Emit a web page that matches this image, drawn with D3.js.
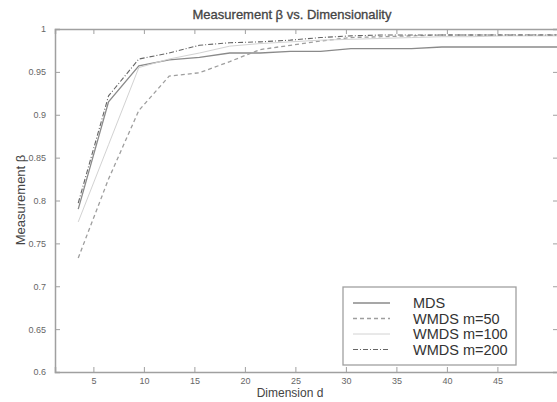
<!DOCTYPE html>
<html>
<head>
<meta charset="utf-8">
<script src="https://cdn.jsdelivr.net/npm/d3@7"></script>
<style>
body { margin: 0; background: #fff; }
text { font-family: Arial, "Liberation Sans", sans-serif; }
</style>
</head>
<body>
<div id="chart"></div>
<script>
// values
var dims = [3.5, 6.5, 9.5, 12.5, 15.5, 18.5, 21.5, 24.5, 27.5, 30.5, 33.5, 36.5, 39.5, 42.5, 45.5, 48.5, 51];
var mds     = [0.790, 0.915, 0.957, 0.964, 0.967, 0.972, 0.972, 0.974, 0.974, 0.977, 0.977, 0.977, 0.979, 0.979, 0.979, 0.979, 0.979];
var wmds50  = [0.733, 0.825, 0.905, 0.945, 0.949, 0.962, 0.976, 0.981, 0.986, 0.990, 0.991, 0.992, 0.993, 0.993, 0.993, 0.993, 0.993];
var wmds100 = [0.775, 0.865, 0.955, 0.965, 0.972, 0.980, 0.983, 0.985, 0.987, 0.988, 0.989, 0.990, 0.991, 0.991, 0.992, 0.992, 0.992];
var wmds200 = [0.797, 0.922, 0.965, 0.972, 0.981, 0.984, 0.985, 0.987, 0.990, 0.992, 0.993, 0.993, 0.993, 0.993, 0.993, 0.993, 0.993];
var seriesNames = ["MDS", "WMDS m=50", "WMDS m=100", "WMDS m=200"];
var xTicks = [5, 10, 15, 20, 25, 30, 35, 40, 45];
var yTicks = [0.6, 0.65, 0.7, 0.75, 0.8, 0.85, 0.9, 0.95, 1];

var width = 557,
    height = 402;

var svg = d3.select("#chart")
    .append("svg")
    .attr("width", width)
    .attr("height", height);

var xScale = d3.scaleLinear()
    .domain([1.2, 51])
    .range([55, 558]);

var yScale = d3.scaleLinear()
    .domain([0.6, 1])
    .range([372, 29]);

var styles = [
    {color: "#8a8a8a", width: 1.3, dash: null},
    {color: "#9e9e9e", width: 1.3, dash: "4,3"},
    {color: "#d2d2d2", width: 1, dash: null},
    {color: "#666666", width: 1.1, dash: "5,2,1,2"}
];
var allSeries = [mds, wmds50, wmds100, wmds200];

// axes box
var axisColor = "#a0a0a0";
var xAxis = d3.axisBottom(xScale).tickValues(xTicks).tickSize(-5).tickPadding(6);
var yAxis = d3.axisLeft(yScale).tickValues(yTicks).tickSize(-5).tickPadding(9)
    .tickFormat(function(d) { return d3.format("")(+d.toFixed(2)); });
var xTop = d3.axisTop(xScale).tickValues(xTicks).tickSize(-5).tickFormat("");
var yRight = d3.axisRight(yScale).tickValues(yTicks).tickSize(-5).tickFormat("");

svg.append("g").attr("transform", "translate(0,372)").attr("class", "xAxis").call(xAxis);
svg.append("g").attr("transform", "translate(55,0)").attr("class", "yAxis").call(yAxis);
svg.append("g").attr("transform", "translate(0,29)").call(xTop);
svg.append("g").attr("transform", "translate(558,0)").call(yRight);

svg.selectAll(".domain").attr("stroke", axisColor).attr("stroke-width", 1.5);
svg.selectAll(".tick line").attr("stroke", axisColor);
svg.selectAll(".tick text").attr("fill", "#666").attr("font-size", 9);

var line = d3.line()
    .x(function(d, i) { return xScale(dims[i]); })
    .y(function(d) { return yScale(d); });

var plot = svg.append("g");
plot.append("clipPath").attr("id", "clip")
    .append("rect").attr("x", 55).attr("y", 29).attr("width", 503).attr("height", 343);

allSeries.forEach(function(s, i) {
    plot.append("path")
        .attr("d", line(s))
        .attr("clip-path", "url(#clip)")
        .attr("fill", "none")
        .attr("stroke", styles[i].color)
        .attr("stroke-width", styles[i].width)
        .attr("stroke-dasharray", styles[i].dash);
});

// title and labels
svg.append("text")
    .attr("x", 292).attr("y", 19)
    .attr("text-anchor", "middle")
    .attr("font-size", 13)
    .attr("fill", "#444")
    .attr("stroke", "#444")
    .attr("stroke-width", 0.3)
    .text("Measurement  \u03b2 vs. Dimensionality");

svg.append("text")
    .attr("x", 290).attr("y", 397)
    .attr("text-anchor", "middle")
    .attr("font-size", 12)
    .attr("fill", "#444")
    .text("Dimension d");

svg.append("text")
    .attr("transform", "translate(25,200) rotate(-90)")
    .attr("text-anchor", "middle")
    .attr("font-size", 13)
    .attr("fill", "#444")
    .text("Measurement \u03b2");

// legend
var legend = svg.append("g");
legend.append("rect")
    .attr("x", 343).attr("y", 287)
    .attr("width", 173).attr("height", 78)
    .attr("fill", "#fff")
    .attr("stroke", axisColor)
    .attr("stroke-width", 1.3);

seriesNames.forEach(function(name, i) {
    var y = 303 + i * 15.5;
    legend.append("line")
        .attr("x1", 353).attr("x2", 390)
        .attr("y1", y).attr("y2", y)
        .attr("stroke", styles[i].color)
        .attr("stroke-width", styles[i].width)
        .attr("stroke-dasharray", styles[i].dash);
    legend.append("text")
        .attr("x", 413).attr("y", y + 5)
        .attr("font-size", 14.5)
        .attr("fill", "#333")
        .text(name);
});
</script>
</body>
</html>
